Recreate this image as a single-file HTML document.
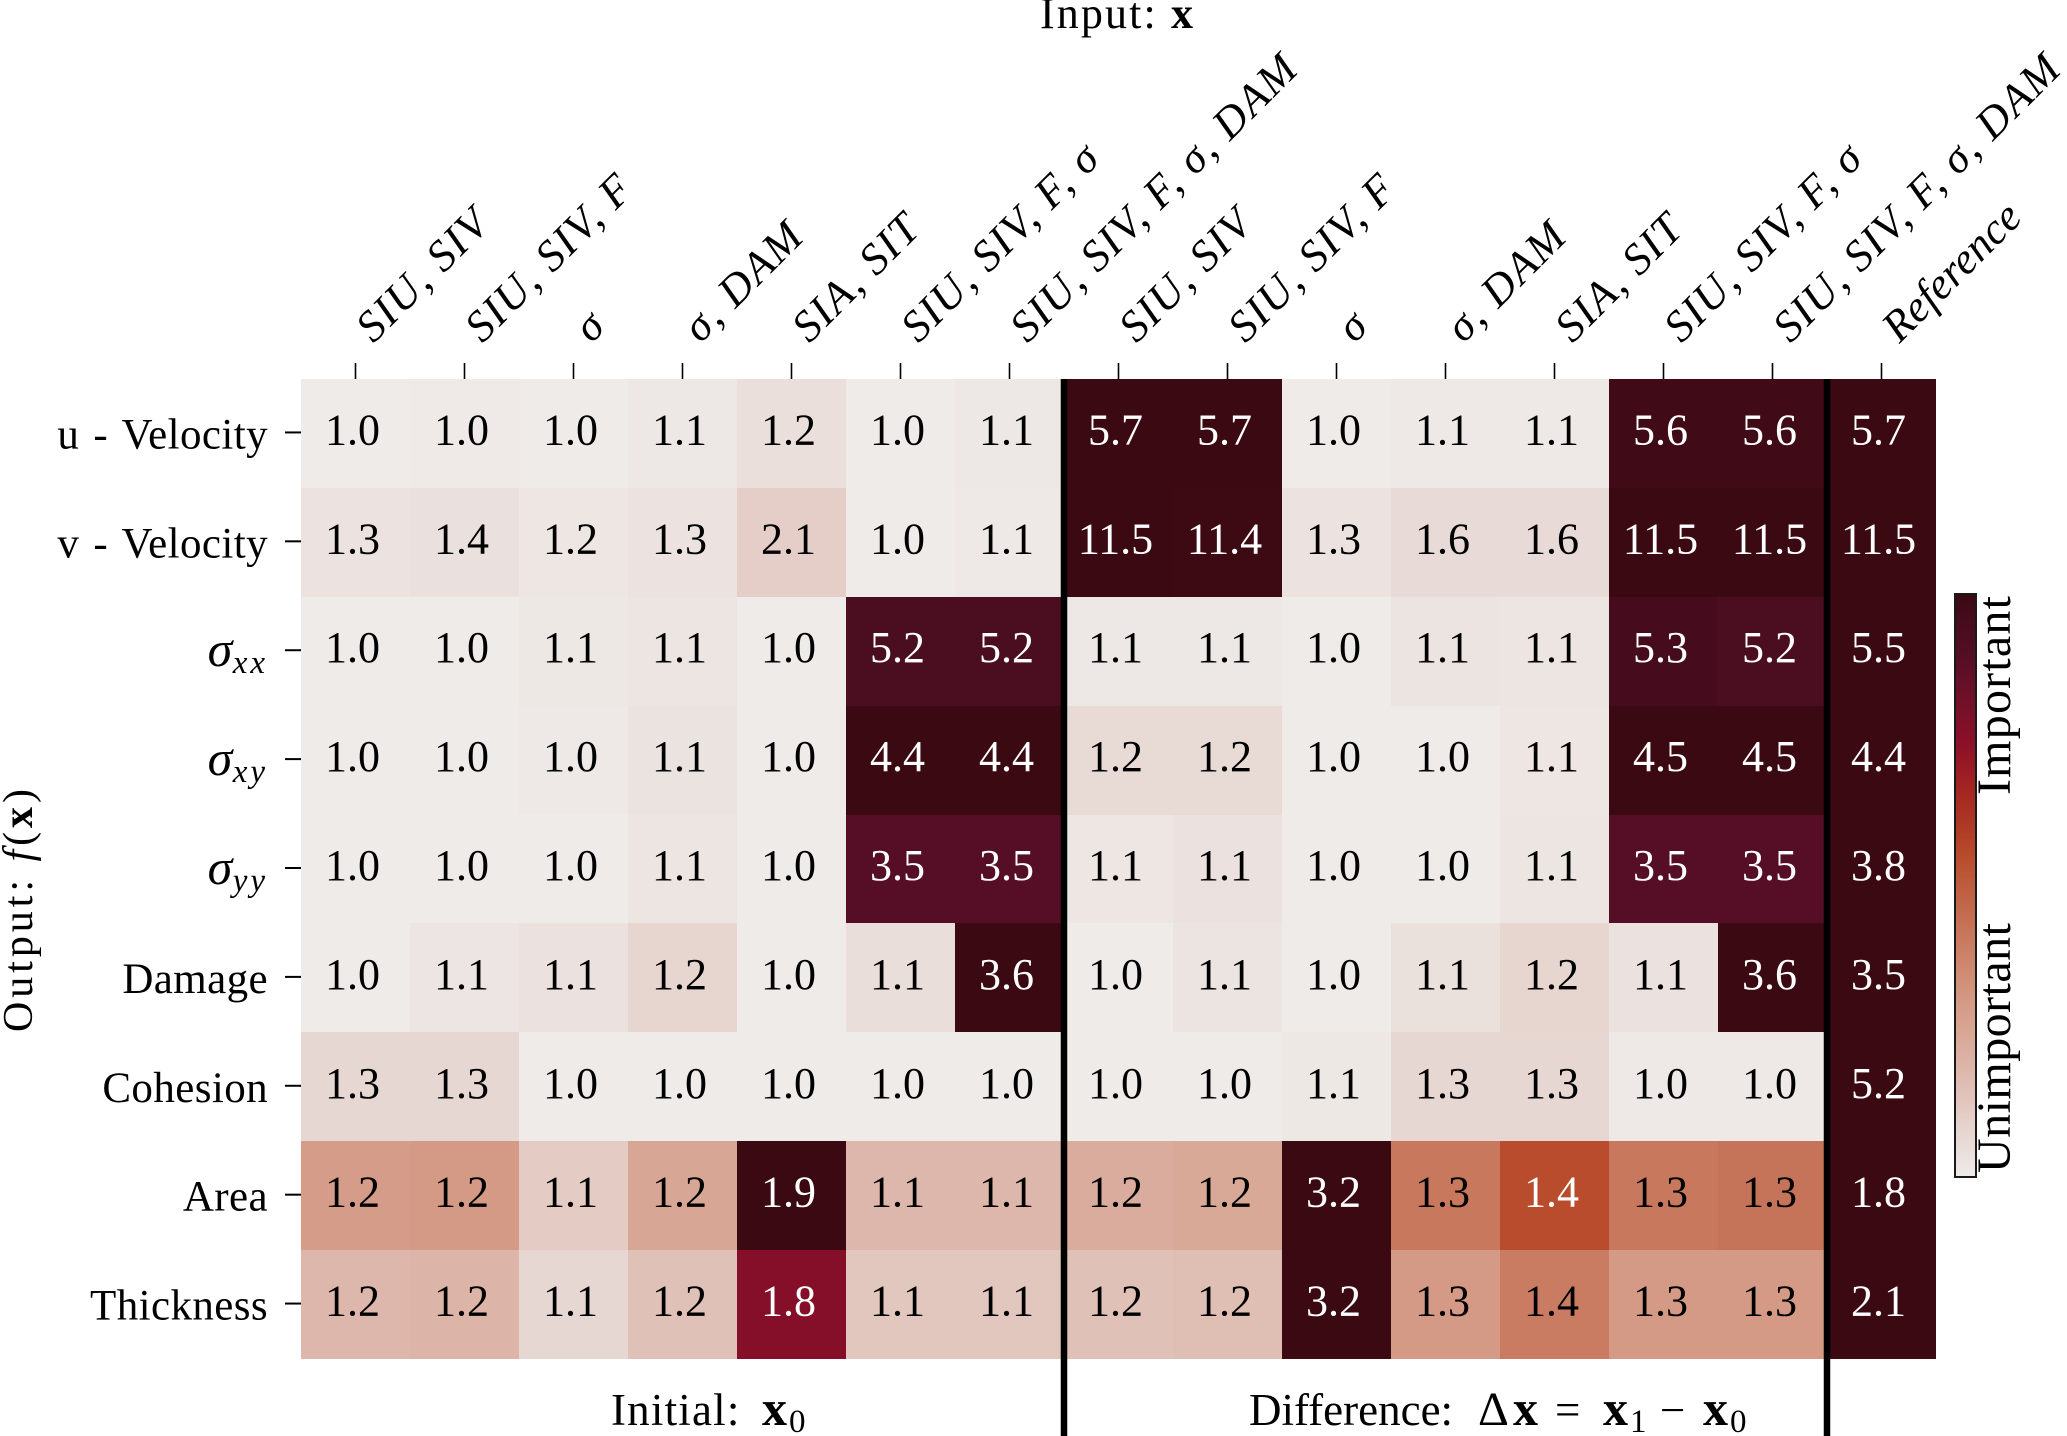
<!DOCTYPE html>
<html lang="en">
<head>
<meta charset="utf-8">
<title>Input-output importance heatmap</title>
<style>
  html, body { margin: 0; padding: 0; background: #fff; }
  svg { display: block; }
  text { font-family: "Liberation Serif", "DejaVu Serif", serif; fill: #000; }
</style>
</head>
<body>
<svg id="chart" xmlns="http://www.w3.org/2000/svg" width="2067" height="1436" viewBox="0 0 2067 1436"></svg>
<script>
const columnLabels = ['SIU, SIV','SIU, SIV, F','σ','σ, DAM','SIA, SIT','SIU, SIV, F, σ','SIU, SIV, F, σ, DAM','SIU, SIV','SIU, SIV, F','σ','σ, DAM','SIA, SIT','SIU, SIV, F, σ','SIU, SIV, F, σ, DAM','Reference'];
const rowLabels = ['u - Velocity','v - Velocity','σ_xx','σ_xy','σ_yy','Damage','Cohesion','Area','Thickness'];
const rowUVelocity = [1.0,1.01,1.0,1.06,1.2,1.0,1.06,5.7,5.7,1.0,1.05,1.05,5.6,5.6,5.7];
const rowVVelocity = [1.3,1.4,1.2,1.3,2.1,1.0,1.1,11.5,11.4,1.3,1.6,1.6,11.5,11.5,11.5];
const rowSigmaXX = [1.0,1.0,1.05,1.1,1.0,5.2,5.2,1.06,1.06,1.0,1.12,1.1,5.3,5.2,5.5];
const rowSigmaXY = [1.0,1.0,1.02,1.1,1.0,4.4,4.4,1.2,1.2,1.0,1.0,1.06,4.5,4.5,4.4];
const rowSigmaYY = [1.0,1.0,1.0,1.06,1.0,3.5,3.5,1.05,1.1,1.0,1.0,1.06,3.5,3.5,3.8];
const rowDamage = [1.0,1.05,1.08,1.2,1.0,1.12,3.6,1.0,1.06,1.0,1.1,1.2,1.08,3.6,3.5];
const rowCohesion = [1.3,1.3,1.0,1.0,1.0,1.0,1.0,1.0,1.0,1.05,1.3,1.3,1.03,1.03,5.2];
const rowArea = [1.23,1.24,1.09,1.2,1.9,1.145,1.145,1.18,1.19,3.2,1.33,1.44,1.33,1.34,1.8];
const rowThickness = [1.2,1.21,1.08,1.16,1.84,1.14,1.14,1.16,1.17,3.2,1.33,1.44,1.33,1.33,2.1];
const heatValues = [rowUVelocity,rowVVelocity,rowSigmaXX,rowSigmaXY,rowSigmaYY,rowDamage,rowCohesion,rowArea,rowThickness];
const panelDividerColumns = [7,14];
const colorStops = ['#efebe9','#e9ddd9','#e5cfc9','#dfc0b6','#dcb2a5','#d8a694','#d49a85','#cf8b74','#c97c62','#c36c50','#bd5d3f','#b84c2c','#af3a26','#a62a22','#9a1b25','#8a0f28','#771029','#641029','#520e24','#470c1e','#3b0912'];

const svg = document.getElementById('chart');
const NS = 'http://www.w3.org/2000/svg';
const plotLeft = 301, plotRight = 1936, plotTop = 379, plotBottom = 1359;
const cellW = (plotRight - plotLeft) / columnLabels.length;
const cellH = (plotBottom - plotTop) / rowLabels.length;
const xScale = c => plotLeft + c * cellW;
const yScale = r => plotTop + r * cellH;

function hexToRgb(h) {
  return [parseInt(h.slice(1,3),16), parseInt(h.slice(3,5),16), parseInt(h.slice(5,7),16)];
}
function colormap(f) {
  const t = Math.min(1, Math.max(0, f)) * (colorStops.length - 1);
  const i = Math.min(colorStops.length - 2, Math.floor(t));
  const a = hexToRgb(colorStops[i]), b = hexToRgb(colorStops[i + 1]);
  const k = t - i;
  return 'rgb(' + a.map((v, n) => Math.round(v + (b[n] - v) * k)).join(',') + ')';
}
function make(tag, attrs, parent) {
  const el = document.createElementNS(NS, tag);
  for (const k in attrs) el.setAttribute(k, attrs[k]);
  (parent || svg).appendChild(el);
  return el;
}
function span(parent, str, attrs) {
  const t = make('tspan', attrs || {}, parent);
  t.textContent = str;
  return t;
}
const refCol = columnLabels.length - 1;

// heatmap cells
const cellsGroup = make('g', {'shape-rendering': 'crispEdges'});


const valuesGroup = make('g', {'font-size': 44, 'text-anchor': 'middle'});


heatValues.forEach((row, r) => {
  const ref = row[refCol];
  row.forEach((v, c) => {
    const f = (v - 1) / (ref - 1);
    const x0 = Math.round(xScale(c)), x1 = Math.round(xScale(c + 1));
    const y0 = Math.round(yScale(r)), y1 = Math.round(yScale(r + 1));
    const cell = make('rect', {x: x0, y: y0, width: x1 - x0, height: y1 - y0, fill: colormap(f)}, cellsGroup);
    
    
    const label = make('text', {
      x: xScale(c) + cellW / 2 - 3,
      y: yScale(r) + cellH / 2 + 11,
      style: 'fill:' + (f > 0.5 ? '#ffffff' : '#000000')
    }, valuesGroup);
    
    
    label.textContent = v.toFixed(1);
  });
});

// x axis ticks and labels
columnLabels.forEach((name, c) => {
  const cx = xScale(c) + cellW / 2;
  const tick = make('line', {x1: cx, x2: cx, y1: 363, y2: plotTop, stroke: '#000', 'stroke-width': 1.6});
  
  
  const label = make('text', {
    transform: 'translate(' + (cx + 18) + ',344) rotate(-45)',
    'font-size': 44,
    'font-style': 'italic',
    'letter-spacing': c === refCol ? 0.2 : 1.8
  });
  
  
  label.textContent = name;
});

// y axis ticks and labels
rowLabels.forEach((name, r) => {
  const cy = yScale(r) + cellH / 2 - 1;
  const tick = make('line', {x1: 285, x2: plotLeft, y1: cy, y2: cy, stroke: '#000', 'stroke-width': 2});
  
  
  const label = make('text', {x: 268, y: cy + 16, 'font-size': 43, 'text-anchor': 'end', 'letter-spacing': 0.4, 'word-spacing': 3});
  
  
  const parts = name.split('_');
  if (parts.length === 2) {
    span(label, parts[0], {'font-style': 'italic', 'font-size': 50});
    span(label, parts[1], {'font-style': 'italic', 'font-size': 33, dy: 7, 'letter-spacing': 3});
  } else {
    label.textContent = name;
  }
});

// panel dividers
panelDividerColumns.forEach(c => {
  const line = make('line', {x1: xScale(c), x2: xScale(c), y1: plotTop, y2: 1436, stroke: '#000', 'stroke-width': 6.5});
  
  
});

// axis titles
const inputTitle = make('text', {x: 1040, y: 28, 'font-size': 44, textLength: 153});


span(inputTitle, 'Input:  ');
span(inputTitle, 'x', {'font-weight': 'bold'});

const outputTitle = make('text', {transform: 'translate(32,1032) rotate(-90)', 'font-size': 42, textLength: 243});


span(outputTitle, 'Output:  ');
span(outputTitle, 'f', {'font-style': 'italic'});
span(outputTitle, '(');
span(outputTitle, 'x', {'font-weight': 'bold'});
span(outputTitle, ')');

const initialTitle = make('text', {x: 611, y: 1425, 'font-size': 45});


span(initialTitle, 'Initial:', {'letter-spacing': 1.2});
span(initialTitle, 'x', {x: 762, 'font-weight': 'bold', 'font-size': 50});
span(initialTitle, '0', {x: 789, 'font-size': 33, dy: 7});

const diffTitle = make('text', {x: 1249, y: 1425, 'font-size': 45});


span(diffTitle, 'Difference:');
span(diffTitle, 'Δ', {x: 1478, 'font-size': 48});
span(diffTitle, 'x', {x: 1513, 'font-weight': 'bold', 'font-size': 50});
span(diffTitle, '=', {x: 1555});
span(diffTitle, 'x', {x: 1603, 'font-weight': 'bold', 'font-size': 50});
span(diffTitle, '1', {x: 1630, 'font-size': 33, dy: 7});
span(diffTitle, '−', {x: 1660, dy: -7});
span(diffTitle, 'x', {x: 1703, 'font-weight': 'bold', 'font-size': 50});
span(diffTitle, '0', {x: 1730, 'font-size': 33, dy: 7});

// colorbar
const defs = make('defs', {});
const grad = make('linearGradient', {id: 'colorbar-gradient', x1: 0, y1: 1, x2: 0, y2: 0}, defs);
colorStops.forEach((col, i) => {
  make('stop', {offset: i / (colorStops.length - 1), 'stop-color': col}, grad);
});
const bar = make('rect', {x: 1955, y: 594, width: 21, height: 583, fill: 'url(#colorbar-gradient)', stroke: '#1a1a1a', 'stroke-width': 2});


const topLabel = make('text', {transform: 'translate(2010,795) rotate(-90)', 'font-size': 48, textLength: 199});


topLabel.textContent = 'Important';
const bottomLabel = make('text', {transform: 'translate(2010,1173) rotate(-90)', 'font-size': 48, textLength: 250});


bottomLabel.textContent = 'Unimportant';
</script>
</body>
</html>
